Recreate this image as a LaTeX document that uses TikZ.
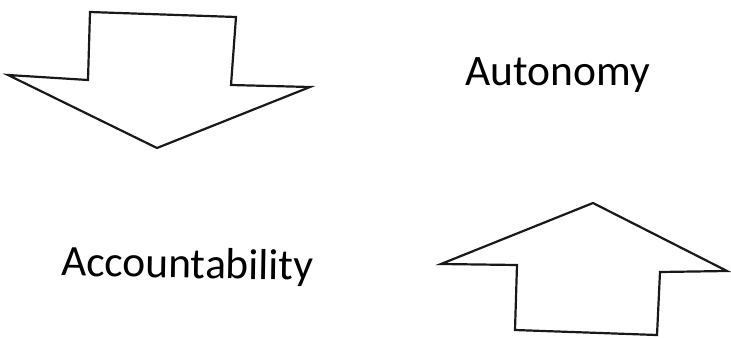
\documentclass[tikz,border=0pt]{standalone}
\usepackage{fontspec}
\setmainfont{Carlito}
\begin{document}
\begin{tikzpicture}[x=1pt,y=-1pt,
  arrowshape/.style={draw=black!90,line width=2.2pt,line join=miter},
  label/.style={font=\fontsize{43.5}{50}\selectfont,text=black,inner sep=0pt}]
\useasboundingbox (0,0) rectangle (731,338);
% down arrow
\draw[arrowshape] (90,12) -- (236,17) -- (231,85) -- (310,87) -- (157,148) -- (8,75) -- (88,80) -- cycle;
% up arrow
\draw[arrowshape] (593,203) -- (727,271) -- (660,272) -- (657,335) -- (515,330) -- (517,265) -- (441,264) -- cycle;
\node[label,anchor=base] (auto) at (558,85) {Autonomy};
\node[label,anchor=base,rotate=-1] (acc) at (187,278) {Accountability};
\end{tikzpicture}
\end{document}
